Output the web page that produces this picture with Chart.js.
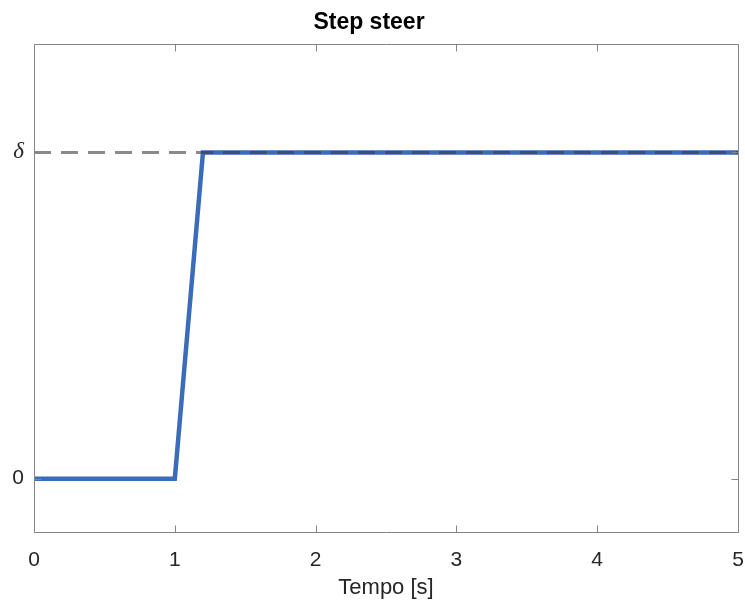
<!DOCTYPE html>
<html>
<head>
<meta charset="utf-8">
<script src="https://cdn.jsdelivr.net/npm/chart.js@4/dist/chart.umd.min.js"></script>
<style>
  html, body { margin: 0; padding: 0; background: #fff; }
  #wrap { width: 745px; height: 606px; }
</style>
</head>
<body>
<div id="wrap"><canvas id="c" width="745" height="606"></canvas></div>
<script>
// ---- data ----
const titleText = "Step steer";
const xLabel = "Tempo [s]";
const timeValues = [0, 1, 1.2, 5];
const steerValues = [0, 0, 3, 3];
const deltaLevel = 3;
const refTimes = [0, 5];
const refValues = [deltaLevel, deltaLevel];
const xTicks = [0, 1, 2, 3, 4, 5];
const yTicks = [0, 3];
const yTickLabels = ["0", "δ"];
const xMin = 0, xMax = 5, yMin = -0.49, yMax = 4;

const steerPoints = timeValues.map((t, i) => ({ x: t, y: steerValues[i] }));
const refPoints = refTimes.map((t, i) => ({ x: t, y: refValues[i] }));

const AXIS_COLOR = '#858585';
const TICK_LEN = 7;

const boxPlugin = {
  id: 'boxPlugin',
  afterDatasetsDraw(chart) {
    const { ctx, chartArea: a, scales } = chart;
    const L = Math.round(a.left) + 0.5, R = Math.round(a.right) + 0.5;
    const T = Math.round(a.top) + 0.5, B = Math.round(a.bottom) + 0.5;
    ctx.save();
    ctx.strokeStyle = AXIS_COLOR;
    ctx.lineWidth = 1;
    ctx.beginPath();
    ctx.rect(L, T, R - L, B - T);
    ctx.stroke();
    ctx.beginPath();
    xTicks.forEach(v => {
      const px = Math.round(scales.x.getPixelForValue(v)) + 0.5;
      ctx.moveTo(px, B); ctx.lineTo(px, B - TICK_LEN);
      ctx.moveTo(px, T); ctx.lineTo(px, T + TICK_LEN);
    });
    yTicks.forEach(v => {
      const py = Math.round(scales.y.getPixelForValue(v)) + 0.5;
      ctx.moveTo(L, py); ctx.lineTo(L + TICK_LEN, py);
      ctx.moveTo(R, py); ctx.lineTo(R - TICK_LEN, py);
    });
    ctx.stroke();
    ctx.restore();
  }
};

new Chart(document.getElementById('c'), {
  type: 'line',
  data: {
    datasets: [
      {
        label: 'steer',
        data: steerPoints,
        borderColor: '#3a6cba',
        borderWidth: 4.5,
        borderJoinStyle: 'miter',
        pointRadius: 0,
        fill: false,
        tension: 0,
        order: 2
      },
      {
        label: 'delta',
        data: refPoints,
        borderColor: 'rgba(60,60,60,0.6)',
        borderWidth: 3,
        borderDash: [17, 10],
        pointRadius: 0,
        fill: false,
        tension: 0,
        order: 1
      }
    ]
  },
  options: {
    responsive: false,
    animation: false,
    devicePixelRatio: 1,
    layout: { padding: { left: 0, right: 7, top: 0, bottom: 0 } },
    plugins: {
      legend: { display: false },
      tooltip: { enabled: false },
      title: {
        display: true,
        text: titleText,
        color: '#000',
        font: { family: 'Liberation Sans', size: 23, weight: 'bold' },
        padding: { top: 9, bottom: 7 }
      }
    },
    scales: {
      x: {
        type: 'linear',
        min: xMin, max: xMax,
        grid: { display: false, drawTicks: false },
        border: { display: false },
        afterBuildTicks(s) { s.ticks = xTicks.map(v => ({ value: v })); },
        afterFit(s) { s.height = 74; s.paddingLeft = 0; s.paddingRight = 0; },
        ticks: {
          color: '#262626',
          padding: 16,
          maxRotation: 0,
          font: { family: 'Liberation Sans', size: 21 },
          callback: v => String(v)
        },
        title: {
          display: true,
          text: xLabel,
          color: '#262626',
          font: { family: 'Liberation Sans', size: 22 },
          padding: { top: 0, bottom: 5 }
        }
      },
      y: {
        type: 'linear',
        min: yMin, max: yMax,
        grid: { display: false, drawTicks: false },
        border: { display: false },
        afterBuildTicks(s) { s.ticks = yTicks.map(v => ({ value: v })); },
        afterFit(s) { s.width = 34; s.paddingTop = 0; s.paddingBottom = 0; },
        ticks: {
          color: '#262626',
          padding: 10,
          font: (ctx) => (ctx.tick && ctx.tick.value === deltaLevel)
            ? { family: 'Liberation Serif', size: 23, style: 'italic' }
            : { family: 'Liberation Sans', size: 21 },
          callback: (v) => {
            const i = yTicks.indexOf(v);
            return i >= 0 ? yTickLabels[i] : '';
          }
        }
      }
    }
  },
  plugins: [boxPlugin]
});
</script>
</body>
</html>
